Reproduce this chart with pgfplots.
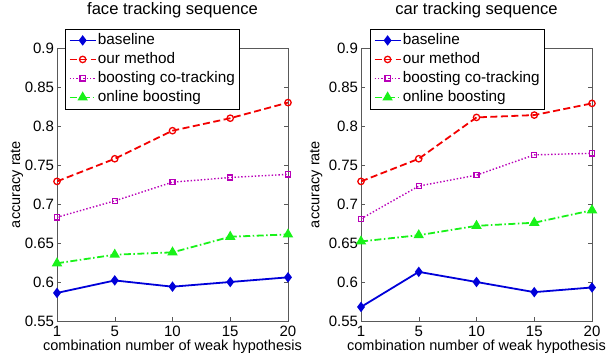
\documentclass[border=0pt]{standalone}
\usepackage{fontspec}
\setmainfont{Liberation Sans}
\usepackage{pgfplots}
\pgfplotsset{compat=1.18}
\definecolor{mblue}{rgb}{0,0,0.85}
\definecolor{mred}{rgb}{0.95,0,0}
\definecolor{mmag}{rgb}{0.72,0,0.72}
\definecolor{mgreen}{rgb}{0.1,0.95,0.1}
\pgfplotsset{
  myaxis/.style={
    scale only axis, width=231bp, height=273bp,
    xmin=0, xmax=4, ymin=0.55, ymax=0.9,
    xtick={0,1,2,3,4}, xticklabels={1,5,10,15,20},
    ytick={0.55,0.6,0.65,0.7,0.75,0.8,0.85,0.9},
    yticklabels={0.55,0.6,0.65,0.7,0.75,0.8,0.85,0.9},
    tick align=inside, tick pos=both,
    major tick length=4bp,
    axis line style={gray!70!black},
    every tick/.style={gray!70!black},
    tick label style={font=\fontsize{15bp}{17bp}\selectfont},
    label style={font=\fontsize{14.5bp}{17bp}\selectfont},
    title style={font=\fontsize{16.6bp}{19bp}\selectfont, at={(0.5,1)}, anchor=base, yshift=28bp},
    xlabel={combination number of weak hypothesis},
    ylabel={accuracy rate},
    xlabel style={at={(axis description cs:0.5,0)}, anchor=base, yshift=-29bp, inner sep=0pt},
    xticklabel style={anchor=base, yshift=-15bp},
    yticklabel style={xshift=0.5bp},
    legend cell align=left,
    legend style={font=\fontsize{15.3bp}{17bp}\selectfont, anchor=north west,
      draw=black, inner xsep=3.5bp, inner ysep=4bp, row sep=4.3bp,
      nodes={inner xsep=1.3bp, inner ysep=0bp, text height=11.2bp, text depth=3.5bp}},
    legend image code/.code={
      \draw[mark repeat=2,mark phase=2,#1] plot coordinates {(0bp,0bp) (13bp,0bp) (26bp,0bp)};},
  },
  bl/.style={mblue, line width=1.8pt, mark=diamond*, mark size=3.8pt, mark options={solid, fill=mblue}},
  om/.style={mred, line width=1.8pt, dashed, dash pattern=on 7bp off 3.5bp, mark=o, mark size=3.2pt, mark options={solid, line width=1.3pt}},
  bc/.style={mmag, line width=1.4pt, dotted, mark=square, mark size=2.6pt, mark options={solid, line width=1.3pt}},
  ob/.style={mgreen, line width=1.8pt, dash pattern=on 7bp off 2.5bp on 1.5bp off 2.5bp, mark=triangle*, mark size=4.3pt, mark options={solid, fill=mgreen}},
}
\begin{document}
\begin{tikzpicture}[x=1bp,y=1bp]
\useasboundingbox (0,0) rectangle (609,354);
\begin{axis}[myaxis, at={(57bp,33bp)}, anchor=south west,
  title={face tracking sequence},
  ylabel style={at={(axis description cs:-0.16,0.5)}, anchor=base},
  legend style={at={(0.035,1.07)}}]
\addplot[bl] coordinates {(0,0.586) (1,0.602) (2,0.594) (3,0.600) (4,0.606)};
\addlegendentry{baseline}
\addplot[om] coordinates {(0,0.729) (1,0.758) (2,0.794) (3,0.810) (4,0.830)};
\addlegendentry{our method}
\addplot[bc] coordinates {(0,0.683) (1,0.704) (2,0.728) (3,0.734) (4,0.738)};
\addlegendentry{boosting co-tracking}
\addplot[ob] coordinates {(0,0.624) (1,0.635) (2,0.638) (3,0.658) (4,0.661)};
\addlegendentry{online boosting}
\end{axis}
\begin{axis}[myaxis, at={(361bp,33bp)}, anchor=south west,
  title={car tracking sequence},
  ylabel style={at={(axis description cs:-0.18,0.5)}, anchor=base},
  legend style={at={(0.039,1.07)}}]
\addplot[bl] coordinates {(0,0.568) (1,0.613) (2,0.600) (3,0.587) (4,0.593)};
\addlegendentry{baseline}
\addplot[om] coordinates {(0,0.729) (1,0.758) (2,0.811) (3,0.814) (4,0.829)};
\addlegendentry{our method}
\addplot[bc] coordinates {(0,0.681) (1,0.723) (2,0.737) (3,0.763) (4,0.765)};
\addlegendentry{boosting co-tracking}
\addplot[ob] coordinates {(0,0.652) (1,0.660) (2,0.672) (3,0.676) (4,0.692)};
\addlegendentry{online boosting}
\end{axis}
\end{tikzpicture}
\end{document}
